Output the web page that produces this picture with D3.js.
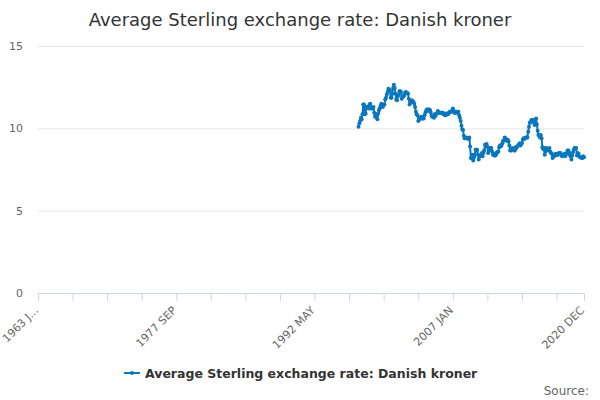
<!DOCTYPE html>
<html>
<head>
<meta charset="utf-8">
<script src="https://cdn.jsdelivr.net/npm/d3@7"></script>
<style>
  body { margin: 0; background: #fff; }
  svg { font-family: "DejaVu Sans", sans-serif; }
</style>
</head>
<body>
<svg id="chart" width="600" height="400"></svg>
<script>
'use strict';

var monthNames = ["JAN", "FEB", "MAR", "APR", "MAY", "JUN", "JUL", "AUG", "SEP", "OCT", "NOV", "DEC"];
var firstYear = 1963;
var lastYear = 2020;
var dataStartYear = 1997;

// axis labels shown every 4th tick (ticks every 44 months)
var labelIndexes = [0, 176, 352, 528, 695];
var labelTexts = ["1963 J...", "1977 SEP", "1992 MAY", "2007 JAN", "2020 DEC"];
var tickStep = 44;

var yTicks = [0, 5, 10, 15];

// monthly averages, Jan 1997 .. Dec 2020
var rates = [
  10.10, 10.30, 10.45, 10.65, 10.55, 10.85, 11.45, 11.45, 10.85, 10.90, 11.30, 11.30, // 1997
  11.30, 11.20, 11.45, 11.50, 11.20, 11.20, 11.25, 11.30, 10.95, 10.70, 10.85, 10.70, // 1998
  10.55, 10.90, 11.10, 11.20, 11.35, 11.50, 11.40, 11.30, 11.45, 11.45, 11.75, 11.85, // 1999
  12.05, 12.20, 12.40, 12.35, 12.30, 11.85, 11.85, 12.10, 12.45, 12.65, 12.45, 12.10, // 2000
  11.75, 11.70, 11.95, 12.05, 12.25, 12.25, 12.20, 11.80, 11.90, 11.95, 12.00, 12.15, // 2001
  12.20, 12.15, 12.15, 12.10, 11.80, 11.45, 11.65, 11.60, 11.70, 11.65, 11.60, 11.50, // 2002
  11.30, 11.00, 10.85, 10.80, 10.45, 10.50, 10.60, 10.65, 10.70, 10.60, 10.60, 10.60, // 2003
  10.80, 10.95, 11.05, 11.15, 11.05, 11.15, 11.15, 11.10, 10.95, 10.75, 10.70, 10.70, // 2004
  10.65, 10.85, 10.75, 10.90, 10.90, 11.05, 10.95, 10.95, 10.95, 10.95, 10.95, 10.95, // 2005
  10.85, 10.90, 10.80, 10.80, 10.90, 10.85, 10.85, 10.95, 11.00, 11.00, 11.00, 11.05, // 2006
  11.20, 11.10, 10.95, 10.95, 10.95, 11.00, 11.00, 11.00, 10.80, 10.65, 10.45, 10.15, // 2007
  9.95, 9.90, 9.55, 9.40, 9.40, 9.45, 9.40, 9.40, 9.35, 9.45, 8.90, 8.20,             // 2008
  8.20, 8.40, 8.05, 8.25, 8.40, 8.70, 8.65, 8.70, 8.40, 8.10, 8.30, 8.30,             // 2009
  8.40, 8.50, 8.30, 8.50, 8.65, 9.00, 8.90, 9.05, 8.90, 8.50, 8.65, 8.80,             // 2010
  8.75, 8.80, 8.60, 8.40, 8.45, 8.35, 8.35, 8.40, 8.55, 8.55, 8.60, 8.85,             // 2011
  8.95, 8.90, 8.95, 9.10, 9.25, 9.25, 9.45, 9.40, 9.30, 9.25, 9.30, 9.20,             // 2012
  8.95, 8.65, 8.65, 8.75, 8.80, 8.75, 8.65, 8.65, 8.85, 8.80, 8.90, 8.95,             // 2013
  9.00, 9.10, 8.95, 9.05, 9.10, 9.30, 9.40, 9.35, 9.40, 9.45, 9.45, 9.45,             // 2014
  9.80, 10.10, 10.35, 10.35, 10.50, 10.40, 10.50, 10.50, 10.20, 10.25, 10.60, 10.25,  // 2015
  9.85, 9.60, 9.55, 9.45, 9.60, 9.40, 8.85, 8.75, 8.80, 8.40, 8.60, 8.80,             // 2016
  8.70, 8.70, 8.65, 8.80, 8.60, 8.50, 8.45, 8.20, 8.30, 8.30, 8.40, 8.45,             // 2017
  8.40, 8.40, 8.40, 8.50, 8.50, 8.50, 8.40, 8.30, 8.35, 8.40, 8.45, 8.30,             // 2018
  8.40, 8.50, 8.65, 8.65, 8.55, 8.40, 8.30, 8.10, 8.35, 8.55, 8.70, 8.80,             // 2019
  8.80, 8.80, 8.35, 8.50, 8.45, 8.30, 8.25, 8.25, 8.20, 8.20, 8.30, 8.25              // 2020
];

var seriesName = "Average Sterling exchange rate: Danish kroner";
var lineColor = "#0a77bd";

var categories = [];
for (var yr = firstYear; yr <= lastYear; yr++) {
  monthNames.forEach(function(m) { categories.push(yr + " " + m); });
}
var offset = (dataStartYear - firstYear) * 12;
var points = rates.map(function(v, i) { return { idx: offset + i, value: v }; });

var svg = d3.select("#chart");

var x = d3.scaleLinear().domain([0, categories.length - 1]).range([38, 584]);
var y = d3.scaleLinear().domain([0, 15]).range([293, 46]);

// title
svg.append("text")
  .attr("x", 300)
  .attr("y", 26)
  .attr("text-anchor", "middle")
  .attr("fill", "#333333")
  .style("font-size", "18px")
  .text(seriesName);

// y grid + labels
var yAxis = d3.axisLeft(y).tickValues(yTicks).tickSize(-(584 - 38)).tickPadding(15);
var yg = svg.append("g").attr("transform", "translate(38,0)").call(yAxis);
yg.select(".domain").remove();
yg.selectAll(".tick line").attr("stroke", "#e6e6e6");
yg.selectAll(".tick text")
  .attr("fill", "#666666")
  .style("font-size", "11px")
  .style("font-family", "DejaVu Sans, sans-serif");

// x axis with ticks every 44 months plus last
var tickValues = d3.range(0, categories.length, tickStep);
tickValues.push(categories.length - 1);
var xAxis = d3.axisBottom(x).tickValues(tickValues).tickSize(8).tickFormat("");
var xg = svg.append("g").attr("transform", "translate(0,293)").call(xAxis);
xg.select(".domain").attr("stroke", "#ccd6eb").attr("d", "M38,0.5H584");
xg.selectAll(".tick line").attr("stroke", "#ccd6eb");

svg.append("g").selectAll("text")
  .data(labelIndexes)
  .enter().append("text")
    .attr("text-anchor", "end")
    .attr("fill", "#666666")
    .style("font-size", "11px")
    .attr("transform", function(d) { return "translate(" + (x(d) + 1) + ",311) rotate(-45)"; })
    .text(function(d, i) { return labelTexts[i]; });

// series line
var line = d3.line()
  .x(function(d) { return x(d.idx); })
  .y(function(d) { return y(d.value); });

svg.append("path")
  .datum(points)
  .attr("fill", "none")
  .attr("stroke", lineColor)
  .attr("stroke-width", 2)
  .attr("stroke-linejoin", "round")
  .attr("d", line);

svg.append("g").selectAll("circle")
  .data(points)
  .enter().append("circle")
    .attr("cx", function(d) { return x(d.idx); })
    .attr("cy", function(d) { return y(d.value); })
    .attr("r", 2)
    .attr("fill", lineColor);

// legend
var legend = svg.append("g").attr("transform", "translate(124,373)");
legend.append("path")
  .attr("d", "M0,0H16")
  .attr("stroke", lineColor)
  .attr("stroke-width", 2);
legend.append("circle")
  .attr("cx", 8).attr("cy", 0).attr("r", 2)
  .attr("fill", lineColor);
legend.append("text")
  .attr("x", 21)
  .attr("y", 5)
  .attr("fill", "#333333")
  .style("font-size", "12.5px")
  .style("font-weight", "bold")
  .text(seriesName);

// source credit
svg.append("text")
  .attr("x", 589)
  .attr("y", 395)
  .attr("text-anchor", "end")
  .attr("fill", "#666666")
  .style("font-size", "12px")
  .text("Source:");
</script>
</body>
</html>
